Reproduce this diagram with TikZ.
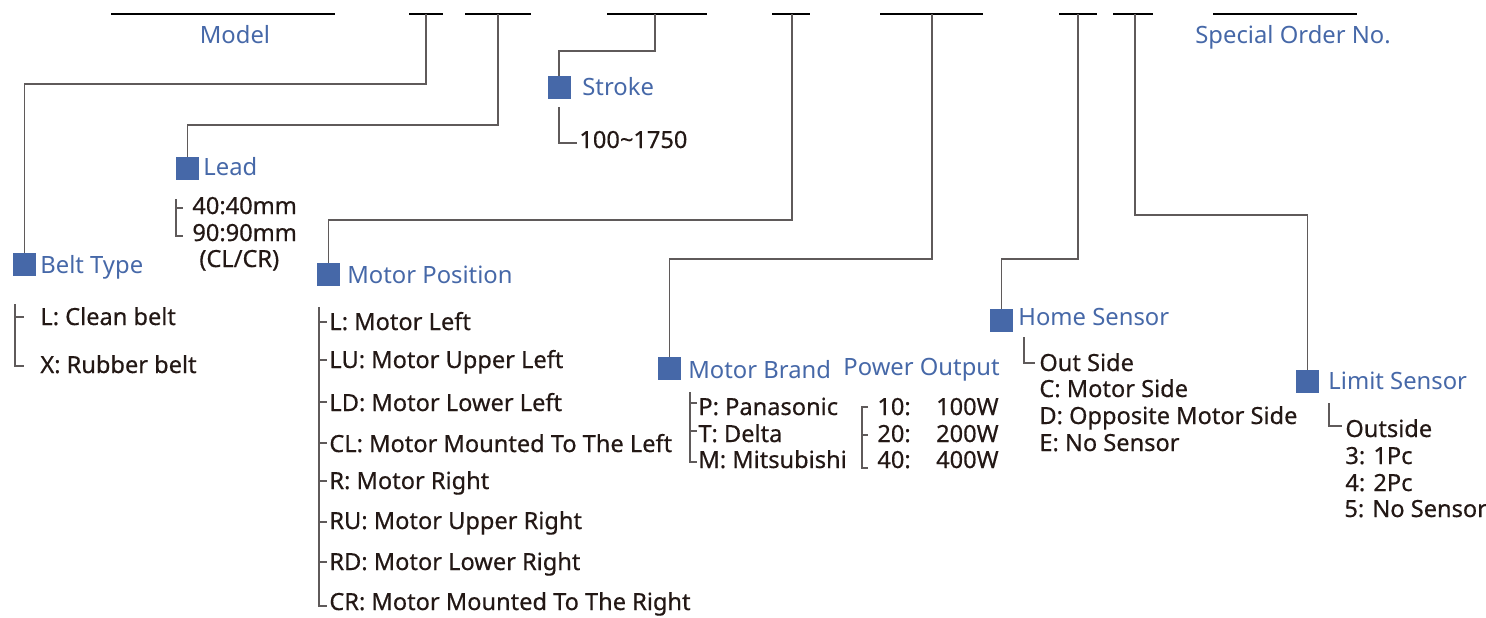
\documentclass[tikz,border=0pt]{standalone}
\usepackage{fontspec}
\setmainfont{Noto Sans}
\newfontfamily\bodyf{Noto Sans}[FakeBold=0.5]
\definecolor{blu}{RGB}{70,104,168}
\definecolor{txt}{RGB}{35,24,21}
\definecolor{linec}{RGB}{95,90,90}
\begin{document}
\begin{tikzpicture}[x=0.5pt,y=-0.5pt,
  hd/.style={anchor=base west,inner sep=0,text=blu,font=\fontsize{11.9}{14}\selectfont},
  tx/.style={anchor=base west,inner sep=0,text=txt,font=\bodyf\fontsize{11.8}{14}\selectfont},
  sq/.style={fill=blu,minimum size=11.5pt,inner sep=0,draw=none},
  topl/.style={draw=black,line width=0.6pt},
  con/.style={draw=linec,line width=0.75pt},
  brk/.style={draw=linec,line width=0.6pt}]
\useasboundingbox (0,0) rectangle (1486,617);

% ---- top code segments
\coordinate (s1a) at (111,14);  \coordinate (s1b) at (335,14);
\coordinate (s2a) at (409,14);  \coordinate (s2b) at (443,14);
\coordinate (s3a) at (465,14);  \coordinate (s3b) at (531,14);
\coordinate (s4a) at (607,14);  \coordinate (s4b) at (707,14);
\coordinate (s5a) at (772,14);  \coordinate (s5b) at (810,14);
\coordinate (s6a) at (880,14);  \coordinate (s6b) at (983,14);
\coordinate (s7a) at (1059,14); \coordinate (s7b) at (1097,14);
\coordinate (s8a) at (1113,14); \coordinate (s8b) at (1153,14);
\coordinate (s9a) at (1213,14); \coordinate (s9b) at (1357,14);
\foreach \i in {1,...,9} {\draw[topl] (s\i a) -- (s\i b);}

% ---- headings
\node[hd,anchor=base] (model) at (235,43) {Model};
\node[hd] (special) at (1195,43) {Special Order No.};

% ---- squares
\node[sq] (bsq) at (24.5,264.5) {};
\node[sq] (lsq) at (187.5,168.5) {};
\node[sq] (ssq) at (559,87.5) {};
\node[sq] (psq) at (328.5,274.5) {};
\node[sq] (mbsq) at (669.5,368.5) {};
\node[sq] (hsq) at (1001.5,320.5) {};
\node[sq] (lmsq) at (1307.5,381.5) {};

\node[hd] (belt) at (40,273) {Belt Type};
\node[hd] (lead) at (203,175) {Lead};
\node[hd] (stroke) at (582,95) {Stroke};
\node[hd] (mpos) at (347,283) {Motor Position};
\node[hd] (mbrand) at (688,378) {Motor Brand};
\node[hd] (power) at (843,375) {Power Output};
\node[hd] (home) at (1018,325) {Home Sensor};
\node[hd] (limit) at (1328,389) {Limit Sensor};

% ---- connectors from code segments to squares
\coordinate (d2) at (426,14);  \coordinate (e2) at (426,84);
\coordinate (d3) at (498,14);  \coordinate (e3) at (498,125);
\coordinate (d4) at (655,14);  \coordinate (e4) at (655,51);
\coordinate (d5) at (792,14);  \coordinate (e5) at (792,220);
\coordinate (d6) at (932,14);  \coordinate (e6) at (932,259);
\coordinate (d7) at (1078,14); \coordinate (e7) at (1078,259);
\coordinate (d8) at (1135,14); \coordinate (e8) at (1135,215);
\draw[con] (d2) -- (e2) -| (bsq.north);
\draw[con] (d3) -- (e3) -| (lsq.north);
\draw[con] (d4) -- (e4) -| (ssq.north);
\draw[con] (d5) -- (e5) -| (psq.north);
\draw[con] (d6) -- (e6) -| (mbsq.north);
\draw[con] (d7) -- (e7) -| (hsq.north);
\draw[con] (d8) -- (e8) -| (lmsq.north);

% ---- Belt type
\node[tx] (b1) at (40,325) {L: Clean belt};
\node[tx] (b2) at (40,373) {X: Rubber belt};
\draw[brk] (15,304) -- (15,366) -- (24,366);
\draw[brk] (15,317) -- (24,317);

% ---- Lead
\node[tx] (l1) at (192,214) {40:40mm};
\node[tx] (l2) at (192,241) {90:90mm};
\node[tx] (l3) at (199,267) {(CL/CR)};
\draw[brk] (176,199) -- (176,236) -- (183,236);
\draw[brk] (176,208) -- (183,208);

% ---- Stroke
\node[tx] (st1) at (579,148) {100\textasciitilde1750};
\draw[brk] (559,107) -- (559,143) -- (577,143);

% ---- Motor position
\node[tx] (p1) at (329,330) {L: Motor Left};
\node[tx] (p2) at (329,368) {LU: Motor Upper Left};
\node[tx] (p3) at (329,411) {LD: Motor Lower Left};
\node[tx] (p4) at (329,452) {CL: Motor Mounted To The Left};
\node[tx] (p5) at (329,489) {R: Motor Right};
\node[tx] (p6) at (329,529) {RU: Motor Upper Right};
\node[tx] (p7) at (329,570) {RD: Motor Lower Right};
\node[tx] (p8) at (329,610) {CR: Motor Mounted To The Right};
\draw[brk] (319,307) -- (319,606) -- (327,606);
\foreach \yy in {322,360,402,443,481,522,562} {\draw[brk] (319,\yy) -- (327,\yy);}

% ---- Motor brand
\node[tx] (m1) at (698,415) {P: Panasonic};
\node[tx] (m2) at (698,442) {T: Delta};
\node[tx] (m3) at (698,468) {M: Mitsubishi};
\draw[brk] (690,392) -- (690,462) -- (697,462);
\draw[brk] (690,403) -- (697,403);
\draw[brk] (690,431) -- (697,431);

% ---- Power output
\node[tx] (w1) at (877,415) {10:};
\node[tx] (w2) at (877,442) {20:};
\node[tx] (w3) at (877,468) {40:};
\node[tx,anchor=base east] (v1) at (999,415) {100W};
\node[tx,anchor=base east] (v2) at (999,442) {200W};
\node[tx,anchor=base east] (v3) at (999,468) {400W};
\draw[brk] (868,407) -- (862,407) -- (862,468) -- (868,468);
\draw[brk] (862,435) -- (868,435);

% ---- Home sensor
\node[tx] (h1) at (1039,371) {Out Side};
\node[tx] (h2) at (1039,397) {C: Motor Side};
\node[tx] (h3) at (1039,424) {D: Opposite Motor Side};
\node[tx] (h4) at (1039,451) {E: No Sensor};
\draw[brk] (1024,337) -- (1024,363) -- (1035,363);

% ---- Limit sensor
\node[tx] (k1) at (1345,437) {Outside};
\node[tx] (k2) at (1345,464) {3: 1Pc};
\node[tx] (k3) at (1345,491) {4: 2Pc};
\node[tx] (k4) at (1344,517) {5: No Sensor};
\draw[brk] (1329,403) -- (1329,426) -- (1342,426);
\end{tikzpicture}
\end{document}
